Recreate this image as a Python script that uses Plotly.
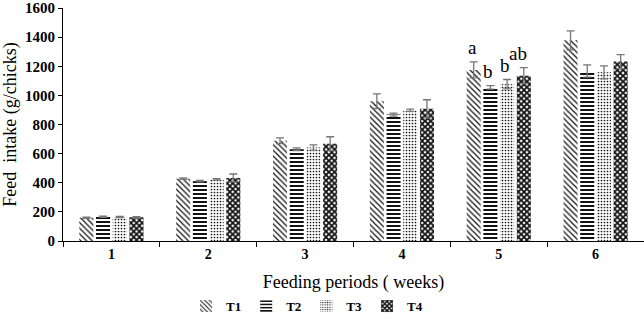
import plotly.graph_objects as go

weeks = ["1", "2", "3", "4", "5", "6"]
series_names = ["T1", "T2", "T3", "T4"]
t1 = [160, 428, 688, 960, 1175, 1378]
t2 = [166, 411, 630, 868, 1055, 1168]
t3 = [165, 423, 642, 898, 1077, 1158]
t4 = [163, 433, 668, 908, 1135, 1232]
t1_err = [4, 5, 20, 50, 55, 65]
t2_err = [4, 5, 10, 10, 12, 42]
t3_err = [4, 5, 18, 8, 32, 45]
t4_err = [5, 27, 48, 62, 55, 48]
letters_week = "5"
letters = ["a", "b", "b", "ab"]

values = [t1, t2, t3, t4]
errors = [t1_err, t2_err, t3_err, t4_err]
shapes = ["\\", "-", ".", "x"]
sizes = [4, 4, 3, 4]
solid = [0.3, 0.5, 0.25, 0.7]

TOP = 8
BARGAP = 0.31
fig = go.Figure()
for name, v, e, sh, sz, so in zip(series_names, values, errors, shapes, sizes, solid):
    fig.add_trace(go.Bar(
        x=weeks, y=v, name=name,
        marker=dict(color="white", line=dict(width=0),
                    pattern=dict(shape=sh, fgcolor="#111111", bgcolor="white",
                                 size=sz, solidity=so, fillmode="replace")),
        error_y=dict(type="data", array=e, visible=True, color="#777777",
                     thickness=1.3, width=4),
    ))

# significance letters for week 5
idx = weeks.index(letters_week)
plot_w = 644 - 63
slot = plot_w / len(weeks) * (1 - BARGAP) / 4
for i, (lab, v, e) in enumerate(zip(letters, values, errors)):
    fig.add_annotation(
        xref="paper", yref="y",
        x=(idx + 0.5) / len(weeks), y=v[idx] + e[idx], text=lab, showarrow=False,
        xshift=(i - 1.5) * slot + 5, yshift=14, yanchor="middle",
        font=dict(family="Liberation Serif", size=19, color="black"),
    )

fig.update_layout(
    template="none",
    width=644, height=320,
    margin=dict(l=63, r=0, t=TOP, b=79, autoexpand=False),
    paper_bgcolor="white", plot_bgcolor="white",
    barmode="group", bargap=BARGAP, bargroupgap=0.16,
    font=dict(family="Liberation Serif", color="black"),
    showlegend=True,
    legend=dict(orientation="h", x=0.42, xanchor="center", y=-0.215, yanchor="top",
                font=dict(family="Liberation Serif", size=13, color="black", weight="bold"),
                itemwidth=30, tracegroupgap=0, bgcolor="rgba(0,0,0,0)"),
)
fig.update_xaxes(
    type="category", showline=True, linecolor="black", linewidth=1,
    ticks="outside", tickson="boundaries", ticklen=5, tickcolor="black",
    tickfont=dict(family="Liberation Serif", size=14, color="black", weight="bold"),
    title=dict(text="Feeding periods ( weeks)", standoff=14,
               font=dict(family="Liberation Serif", size=18, color="black")),
    showgrid=False, automargin=False,
)
fig.update_yaxes(
    range=[0, 1600], tickvals=[0, 200, 400, 600, 800, 1000, 1200, 1400, 1600],
    showline=True, linecolor="black", linewidth=1,
    ticks="outside", ticklen=4, tickcolor="black", ticklabeloverflow="allow",
    tickfont=dict(family="Liberation Serif", size=15, color="black", weight="bold"),
    title=dict(text="Feed  intake (g/chicks)", standoff=6,
               font=dict(family="Liberation Serif", size=18, color="black")),
    showgrid=False, zeroline=False, automargin=False,
)

fig.write_html("out.html", config={"displayModeBar": False},
               post_script="document.body.style.margin='0px';")
